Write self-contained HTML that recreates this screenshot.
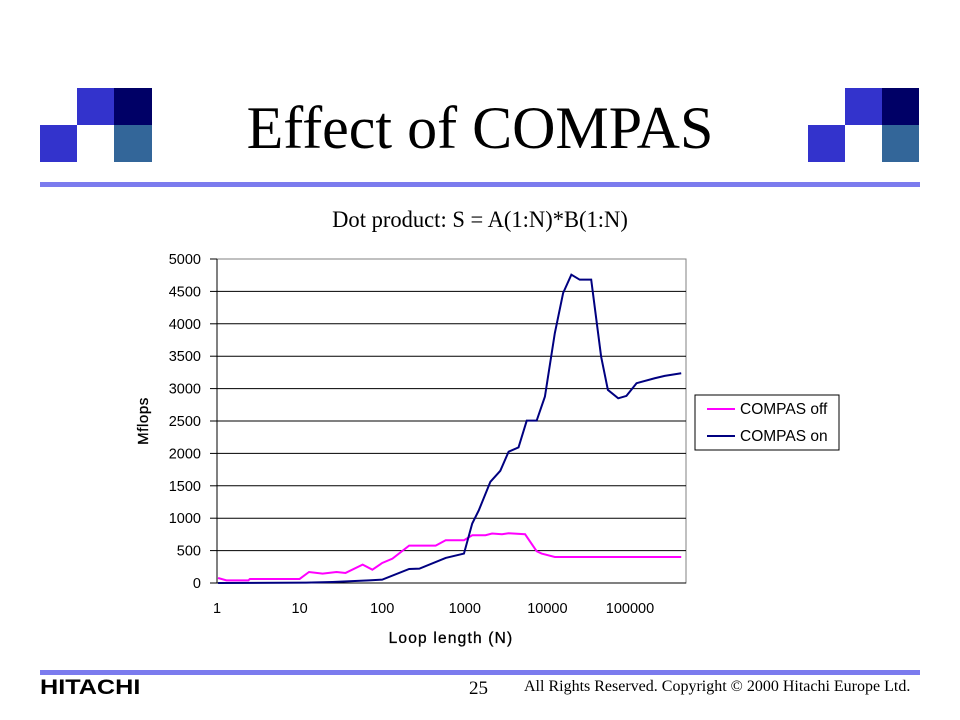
<!DOCTYPE html>
<html><head><meta charset="utf-8"><style>
body{margin:0;width:960px;height:720px;background:#fff;position:relative;overflow:hidden;font-family:"Liberation Sans",sans-serif}
.sq{position:absolute;width:37px;height:37px}
.b{background:#3333cc}.n{background:#000066}.s{background:#336699}
.abs{position:absolute}
</style></head><body>
<div>
<div class="sq b" style="left:77px;top:88px"></div><div class="sq n" style="left:114px;top:88px;width:38px"></div>
<div class="sq b" style="left:40px;top:125px"></div><div class="sq s" style="left:114px;top:125px;width:38px"></div>
</div>
<div>
<div class="sq b" style="left:845px;top:88px"></div><div class="sq n" style="left:882px;top:88px"></div>
<div class="sq b" style="left:808px;top:125px"></div><div class="sq s" style="left:882px;top:125px"></div>
</div>
<div class="abs" style="left:0;width:960px;top:94px;text-align:center;font:60px 'Liberation Serif',serif;color:#000">Effect of COMPAS</div>
<div class="abs" style="left:40px;top:182px;width:880px;height:5px;background:#7b7bee"></div>
<div class="abs" style="left:0;width:960px;top:207px;text-align:center;font:23px 'Liberation Serif',serif;transform:scaleX(0.98)">Dot product: S = A(1:N)*B(1:N)</div>
<svg class="abs" style="left:0;top:0" width="960" height="720" id="chart"></svg>
<div class="abs" style="left:40px;top:670px;width:880px;height:5px;background:#7b7bee"></div>
<div class="abs" style="left:40px;top:676px;font:bold 21px 'Liberation Sans',sans-serif;transform-origin:0 0;transform:scaleX(1.2)">HITACHI</div>
<div class="abs" style="left:469px;top:678px;font:19px 'Liberation Serif',serif">25</div>
<div class="abs" style="left:524px;top:678px;font:16px 'Liberation Serif',serif;white-space:nowrap">All Rights Reserved. Copyright © 2000 Hitachi Europe Ltd.</div>
<script>
const offN=[1.03,1.3,2.4,2.5,10,13,19,28,36,58,76,100,133,212,444,587,977,1230,1780,2140,2820,3390,5370,7410,8510,12300,417000];
const offV=[77,41,41,62,62,170,144,170,155,284,206,309,376,577,577,660,660,737,737,763,752,768,752,490,454,402,402];
const onN=[1.03,12,25,69,100,212,282,587,977,1230,1480,2040,2690,3390,4470,5620,7410,9330,12300,15500,19500,24600,33900,44700,54000,72000,90500,120000,199000,263000,417000];
const onV=[0,5,15,41,52,216,222,387,454,918,1124,1562,1732,2026,2093,2505,2505,2876,3856,4475,4758,4681,4681,3495,2979,2850,2887,3083,3160,3196,3237];
const yTicks=[0,500,1000,1500,2000,2500,3000,3500,4000,4500,5000];
const xTicks=[1,10,100,1000,10000,100000];
const X0=217,X1=686,Y0=583,Y1=259,DEC=82.6;
const xs=n=>X0+Math.log10(n)*DEC, ys=v=>Y0-(v/5000)*(Y0-Y1);
const svg=document.getElementById('chart');const NS='http://www.w3.org/2000/svg';
function mk(t,a){const e=document.createElementNS(NS,t);for(const k in a)e.setAttribute(k,a[k]);svg.appendChild(e);return e;}
let r=mk('rect',{x:X0,y:Y1,width:X1-X0,height:Y0-Y1,fill:'#fff',stroke:'#808080'});


yTicks.forEach(v=>{
 if(v>0&&v<5000){const l=mk('line',{x1:X0,x2:X1,y1:ys(v),y2:ys(v),stroke:'#000'});
 
 }
 const tk=mk('line',{x1:X0-7,x2:X0,y1:ys(v),y2:ys(v),stroke:'#000'});
 
 
 const t=mk('text',{x:X0-16,y:ys(v)+5,'text-anchor':'end','font-size':14.5,'font-family':'Liberation Sans'});t.textContent=v;
 
 
});
const ax=mk('line',{x1:X0,x2:X0,y1:Y1,y2:Y0,stroke:'#000'});


const axx=mk('line',{x1:X0,x2:X1,y1:Y0,y2:Y0,stroke:'#000'});


xTicks.forEach(n=>{
 const t=mk('text',{x:xs(n),y:Y0+30,'text-anchor':'middle','font-size':14.5,'font-family':'Liberation Sans'});t.textContent=n;
 
 
});
function series(N,V,c,name){const p=mk('polyline',{points:N.map((n,i)=>xs(n)+','+ys(V[i])).join(' '),fill:'none',stroke:c,'stroke-width':2});
 
 }
series(offN,offV,'#ff00ff','series-compas-off');
series(onN,onV,'#000080','series-compas-on');
const xt=mk('text',{x:451,y:643,'text-anchor':'middle','font-size':15.5,'font-family':'Liberation Sans','letter-spacing':'1.2','stroke':'#000','stroke-width':'0.3'});xt.textContent='Loop length (N)';


const yt=mk('text',{x:148,y:421,'text-anchor':'middle','font-size':15,'font-family':'Liberation Sans','letter-spacing':'0.6','stroke':'#000','stroke-width':'0.3',transform:'rotate(-90 148 421)'});yt.textContent='Mflops';


const lg=mk('rect',{x:695,y:395,width:144,height:55,fill:'#fff',stroke:'#000'});


[['COMPAS off','#ff00ff',409],['COMPAS on','#000080',436]].forEach(([s,c,y])=>{
 const l=mk('line',{x1:707,x2:735,y1:y,y2:y,stroke:c,'stroke-width':2});
 
 
 const t=mk('text',{x:740,y:y+5,'font-size':15.5,'font-family':'Liberation Sans'});t.textContent=s;
 
 
});
</script>
</body></html>
